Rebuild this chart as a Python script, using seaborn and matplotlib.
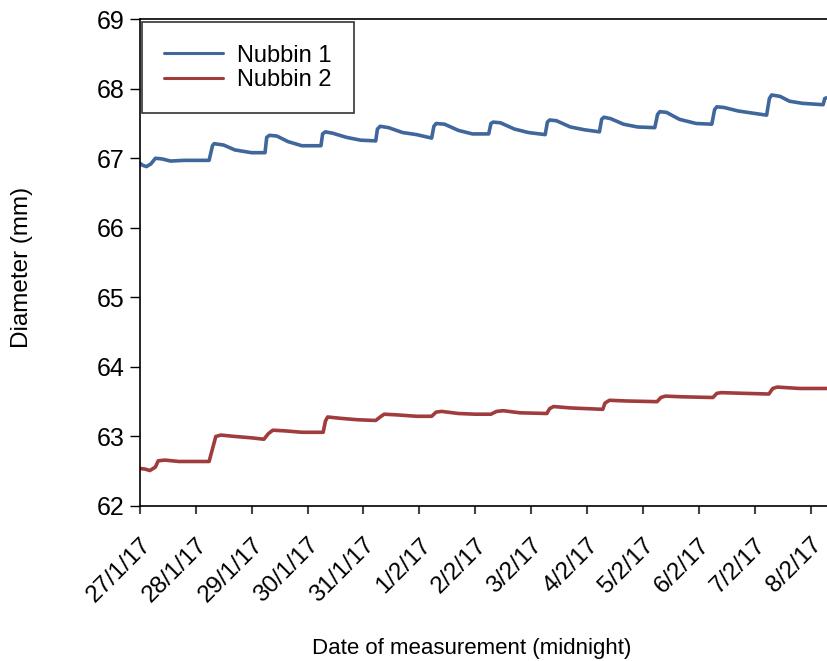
import matplotlib
matplotlib.use("Agg")
import matplotlib.pyplot as plt
import matplotlib.transforms as mtransforms
import seaborn as sns
import pandas as pd

# ---- data ----
start = pd.Timestamp("2017-01-27")

# Nubbin 1: days after 27/1/17 midnight, diameter (mm)
n1_days = [0.00, 0.05, 0.12, 0.20, 0.28, 0.40, 0.55, 0.80, 1.24,
           1.30, 1.33, 1.50, 1.70, 2.00, 2.24,
           2.27, 2.32, 2.45, 2.65, 2.90, 3.24,
           3.27, 3.32, 3.45, 3.70, 3.95, 4.22,
           4.25, 4.30, 4.45, 4.70, 4.95, 5.22,
           5.26, 5.30, 5.45, 5.70, 5.95, 6.24,
           6.28, 6.32, 6.45, 6.70, 6.95, 7.25,
           7.29, 7.33, 7.45, 7.70, 7.95, 8.22,
           8.26, 8.30, 8.42, 8.65, 8.90, 9.21,
           9.26, 9.30, 9.42, 9.65, 9.95, 10.23,
           10.28, 10.32, 10.45, 10.70, 10.95, 11.21,
           11.26, 11.30, 11.45, 11.62, 11.85, 12.22,
           12.25, 12.29]
n1_mm = [66.93, 66.90, 66.88, 66.92, 67.00, 66.99, 66.96, 66.97, 66.97,
         67.18, 67.21, 67.19, 67.12, 67.08, 67.08,
         67.30, 67.33, 67.32, 67.24, 67.18, 67.18,
         67.35, 67.38, 67.36, 67.30, 67.26, 67.25,
         67.42, 67.46, 67.44, 67.37, 67.34, 67.29,
         67.46, 67.50, 67.49, 67.40, 67.35, 67.35,
         67.50, 67.52, 67.51, 67.42, 67.37, 67.34,
         67.52, 67.55, 67.54, 67.45, 67.41, 67.38,
         67.56, 67.59, 67.57, 67.49, 67.45, 67.44,
         67.63, 67.67, 67.66, 67.56, 67.50, 67.49,
         67.70, 67.74, 67.73, 67.68, 67.65, 67.62,
         67.86, 67.91, 67.89, 67.82, 67.79, 67.77,
         67.86, 67.87]

# Nubbin 2
n2_days = [0.00, 0.10, 0.18, 0.28, 0.33, 0.45, 0.70, 1.00, 1.24,
           1.30, 1.36, 1.45, 1.70, 2.00, 2.22,
           2.30, 2.38, 2.60, 2.90, 3.28,
           3.32, 3.36, 3.60, 3.90, 4.22,
           4.30, 4.37, 4.60, 4.95, 5.22,
           5.30, 5.40, 5.70, 6.00, 6.28,
           6.38, 6.50, 6.80, 7.28,
           7.33, 7.40, 7.70, 8.28,
           8.32, 8.40, 8.70, 9.25,
           9.32, 9.40, 9.70, 10.25,
           10.32, 10.40, 10.80, 11.25,
           11.32, 11.40, 11.80, 12.29]
n2_mm = [62.54, 62.53, 62.51, 62.56, 62.65, 62.66, 62.64, 62.64, 62.64,
         62.82, 63.00, 63.02, 63.00, 62.98, 62.96,
         63.04, 63.09, 63.08, 63.06, 63.06,
         63.22, 63.28, 63.26, 63.24, 63.23,
         63.28, 63.32, 63.31, 63.29, 63.29,
         63.35, 63.36, 63.33, 63.32, 63.32,
         63.36, 63.37, 63.34, 63.33,
         63.40, 63.43, 63.41, 63.39,
         63.48, 63.52, 63.51, 63.50,
         63.56, 63.58, 63.57, 63.56,
         63.62, 63.63, 63.62, 63.61,
         63.69, 63.71, 63.69, 63.69]

tick_labels = ["27/1/17", "28/1/17", "29/1/17", "30/1/17", "31/1/17",
               "1/2/17", "2/2/17", "3/2/17", "4/2/17", "5/2/17",
               "6/2/17", "7/2/17", "8/2/17"]

df = pd.concat([
    pd.DataFrame({"time": start + pd.to_timedelta(n1_days, unit="D"),
                  "diameter": n1_mm, "series": "Nubbin 1"}),
    pd.DataFrame({"time": start + pd.to_timedelta(n2_days, unit="D"),
                  "diameter": n2_mm, "series": "Nubbin 2"}),
])

# ---- style ----
sns.set_style("ticks")
plt.rcParams["font.family"] = ["Liberation Sans", "DejaVu Sans"]
for k in ["text.color", "axes.labelcolor", "xtick.color", "ytick.color"]:
    plt.rcParams[k] = "black"

fig = plt.figure(figsize=(8.27, 6.61), dpi=100)
ax = fig.add_axes([0.169, 0.2345, 0.831, 0.7365])

sns.lineplot(data=df, x="time", y="diameter", hue="series",
             palette={"Nubbin 1": "#3F679C", "Nubbin 2": "#A03C3C"},
             linewidth=2.6, ax=ax)

ticks = pd.date_range(start, periods=len(tick_labels), freq="D")
ax.set_xticks(ticks)
ax.set_xticklabels(tick_labels, rotation=45, ha="right",
                   rotation_mode="anchor", fontsize=17.5)
# nudge rotated labels a little to the left, like the original
shift = mtransforms.ScaledTranslation(-6 / 100, 0, fig.dpi_scale_trans)
for lab in ax.get_xticklabels():
    lab.set_transform(lab.get_transform() + shift)

ax.set_xlim(start, start + pd.Timedelta(days=12.29))
ax.set_ylim(62, 69)
ax.set_yticks(range(62, 70))
ax.tick_params(axis="y", labelsize=18, length=7, width=1, pad=4)
ax.tick_params(axis="x", length=6, width=1.5, color="#444444", pad=14)

ax.set_xlabel("Date of measurement (midnight)", fontsize=16)
ax.set_ylabel("Diameter (mm)", fontsize=17.5)
ax.xaxis.set_label_coords(0.483, -0.272)
ax.yaxis.set_label_coords(-0.155, 0.49)

ax.spines["right"].set_visible(False)
for s in ["left", "bottom", "top"]:
    ax.spines[s].set_color("black")
    ax.spines[s].set_linewidth(1.2)

leg = ax.legend(loc="upper left", bbox_to_anchor=(0.003, 0.994),
                fontsize=17, frameon=True, fancybox=False, borderpad=0.95,
                handlelength=2.5, handletextpad=0.6, labelspacing=0.1,
                borderaxespad=0)
leg.get_frame().set_edgecolor("black")
leg.get_frame().set_linewidth(1.2)
for line in leg.get_lines():
    line.set_linewidth(2.2)

fig.savefig("out.png", dpi=100)
